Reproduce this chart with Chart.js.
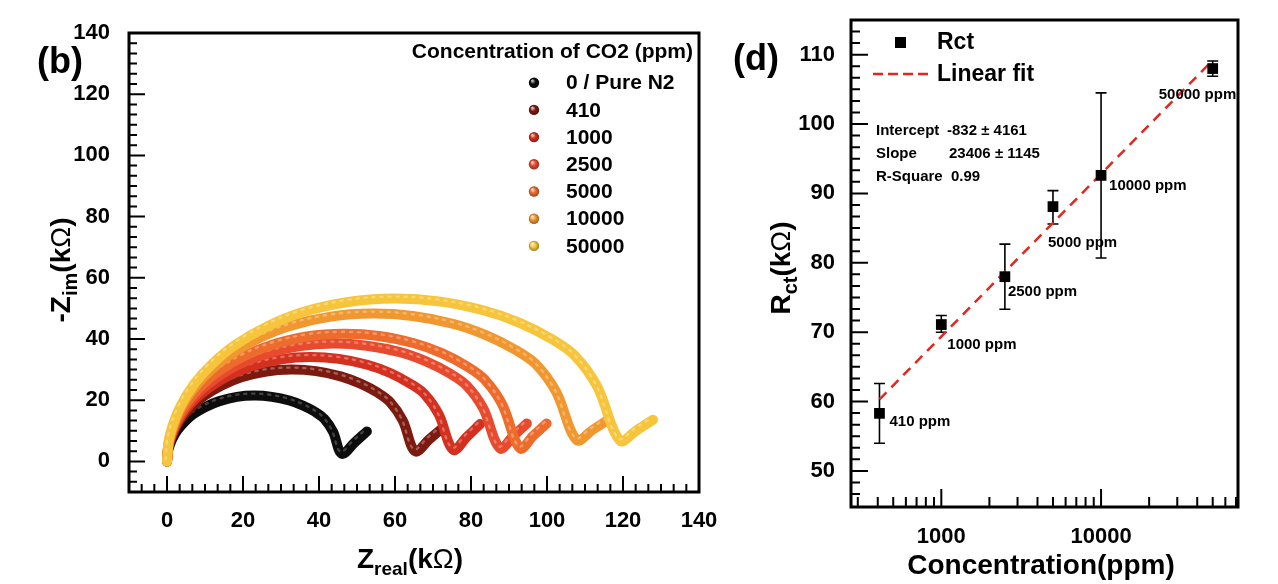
<!DOCTYPE html>
<html><head><meta charset="utf-8">
<script src="https://cdn.jsdelivr.net/npm/chart.js@4.4.0/dist/chart.umd.min.js"></script>
<style>
html,body{margin:0;padding:0;background:#fff;}
#wrap{position:relative;width:1278px;height:584px;overflow:hidden;background:#fff;}
#cL{position:absolute;left:0;top:0;}
#cR{position:absolute;left:720px;top:0;}
</style></head><body>
<div id="wrap"><canvas id="cL" width="720" height="584"></canvas><canvas id="cR" width="558" height="584"></canvas></div>
<script>
// ================= Panel (b): Nyquist plots (kΩ) =================
const seriesLabels = ['0 / Pure N2', '410', '1000', '2500', '5000', '10000', '50000'];
const seriesColors = ['#0d0d0d', '#7c1a10', '#d4301f', '#e74a2c', '#ed6c2c', '#f0982f', '#f6c53c'];

const zReal_N2 = [0, 0.14, 0.46, 1.38, 2.76, 4.60, 6.90, 10.12, 13.80, 18.40, 23.00, 27.60, 32.20, 35.88, 39.10, 41.40, 43.70, 46.00, 49.30, 52.60];
const zIm_N2   = [0, 2.3, 4.3, 7.3, 10.2, 12.9, 15.4, 17.8, 19.7, 21.1, 21.5, 21.1, 19.9, 18.2, 16.1, 13.9, 9.7, 2.5, 6.1, 9.8];

const zReal_410 = [0, 0.20, 0.65, 1.96, 3.92, 6.53, 9.80, 14.37, 19.59, 26.12, 32.65, 39.18, 45.71, 50.93, 55.51, 58.77, 62.04, 65.30, 69.00, 72.60];
const zIm_410   = [0, 3.3, 6.0, 10.2, 14.3, 18.0, 21.4, 24.8, 27.5, 29.4, 30.0, 29.5, 27.8, 25.4, 22.4, 19.3, 13.4, 3.3, 7.2, 11.0];

const zReal_1000 = [0, 0.23, 0.75, 2.26, 4.52, 7.53, 11.30, 16.57, 22.59, 30.12, 37.65, 45.18, 52.71, 58.73, 64.01, 67.77, 71.54, 75.30, 78.90, 82.40];
const zIm_1000   = [0, 3.7, 6.8, 11.6, 16.2, 20.5, 24.3, 28.2, 31.3, 33.4, 34.1, 33.5, 31.6, 28.9, 25.4, 22.0, 15.3, 3.8, 8.0, 12.2];

const zReal_2500 = [0, 0.26, 0.88, 2.63, 5.26, 8.76, 13.14, 19.27, 26.28, 35.04, 43.80, 52.56, 61.32, 68.33, 74.46, 78.84, 83.22, 87.60, 91.20, 94.70];
const zIm_2500   = [0, 4.2, 7.7, 13.1, 18.3, 23.1, 27.5, 31.9, 35.3, 37.7, 38.5, 37.8, 35.7, 32.6, 28.7, 24.8, 17.3, 4.3, 8.4, 12.4];

const zReal_5000 = [0, 0.28, 0.93, 2.79, 5.57, 9.29, 13.94, 20.44, 27.87, 37.16, 46.45, 55.74, 65.03, 72.46, 78.97, 83.61, 88.26, 92.90, 96.40, 99.90];
const zIm_5000   = [0, 4.5, 8.3, 14.2, 19.8, 25.0, 29.8, 34.5, 38.2, 40.9, 41.7, 41.0, 38.6, 35.3, 31.0, 26.7, 18.5, 4.3, 8.4, 12.4];

const zReal_10000 = [0, 0.32, 1.08, 3.23, 6.47, 10.78, 16.17, 23.72, 32.34, 43.12, 53.90, 64.68, 75.46, 84.08, 91.63, 97.02, 102.41, 107.80, 112.00, 116.10];
const zIm_10000   = [0, 5.3, 9.6, 16.5, 22.9, 29.0, 34.5, 40.0, 44.3, 47.3, 48.3, 47.5, 44.9, 41.2, 36.5, 31.8, 22.7, 7.0, 10.3, 13.6];

const zReal_50000 = [0, 0.36, 1.19, 3.58, 7.15, 11.92, 17.88, 26.22, 35.76, 47.68, 59.60, 71.52, 83.44, 92.98, 101.32, 107.28, 113.24, 119.20, 123.60, 127.90];
const zIm_50000   = [0, 5.8, 10.6, 18.1, 25.3, 31.9, 38.0, 44.0, 48.8, 52.1, 53.2, 52.3, 49.3, 45.2, 39.9, 34.6, 24.4, 6.8, 10.2, 13.6];

const leftXTicks = [0, 20, 40, 60, 80, 100, 120, 140];
const leftYTicks = [0, 20, 40, 60, 80, 100, 120, 140];

// ================= Panel (d): Rct vs concentration =================
const conc = [410, 1000, 2500, 5000, 10000, 50000];
const rct = [58.3, 71.1, 78.0, 88.1, 92.6, 108.0];
const rctErrLow = [54.0, 70.0, 73.3, 85.6, 80.7, 106.9];
const rctErrHigh = [62.6, 72.4, 82.7, 90.4, 104.5, 109.1];
const fitConc = [410, 50000];
const fitRct = [60.3, 109.2];
const pointLabels = ['410 ppm', '1000 ppm', '2500 ppm', '5000 ppm', '10000 ppm', '50000 ppm'];
const fitStatNames = ['Intercept', 'Slope', 'R-Square'];
const fitStatValues = ['-832 \u00B1 4161', '23406 \u00B1 1145', '0.99'];
const rightXTicks = [1000, 10000];
const rightYTicks = [50, 60, 70, 80, 90, 100, 110];

// label placement (px) relative to each point / stats column offsets
const pointLabelOffsets = [[10, 9], [6, 20], [3, 15], [-5, 36], [8, 10], [-54, 26]];
const statValueOffsets = [71, 73, 75];

// ================= helpers =================
const FONT = "'Liberation Sans', Arial, Helvetica, sans-serif";
Chart.defaults.font.family = FONT;
Chart.defaults.color = '#000';

function richText(ctx, parts, x, y, align) {
  let w = 0;
  const widths = parts.map(p => { ctx.font = `${p[2]} ${p[1]}px ${FONT}`; const m = ctx.measureText(p[0]).width; w += m; return m; });
  let cx = align === 'center' ? x - w / 2 : (align === 'right' ? x - w : x);
  ctx.textAlign = 'left'; ctx.textBaseline = 'alphabetic'; ctx.fillStyle = '#000';
  parts.forEach((p, i) => { ctx.font = `${p[2]} ${p[1]}px ${FONT}`; ctx.fillText(p[0], cx, y + (p[3] || 0)); cx += widths[i]; });
}
function shade(hex, f) {
  const n = parseInt(hex.slice(1), 16);
  let r = (n >> 16) & 255, g = (n >> 8) & 255, b = n & 255;
  if (f < 0) { r *= 1 + f; g *= 1 + f; b *= 1 + f; }
  else { r += (255 - r) * f; g += (255 - g) * f; b += (255 - b) * f; }
  return `rgb(${Math.round(r)},${Math.round(g)},${Math.round(b)})`;
}
function sphere(ctx, x, y, r, color) {
  const g = ctx.createRadialGradient(x - r * 0.35, y - r * 0.4, r * 0.1, x, y, r);
  g.addColorStop(0, shade(color, 0.75));
  g.addColorStop(0.45, color);
  g.addColorStop(1, shade(color, -0.35));
  ctx.fillStyle = g; ctx.beginPath(); ctx.arc(x, y, r, 0, Math.PI * 2); ctx.fill();
}
function noScalePadding(s) { s.paddingTop = 0; s.paddingBottom = 0; s.paddingLeft = 0; s.paddingRight = 0; }

// ================= left chart =================
const leftSeries = [[zReal_N2, zIm_N2], [zReal_410, zIm_410], [zReal_1000, zIm_1000], [zReal_2500, zIm_2500],
  [zReal_5000, zIm_5000], [zReal_10000, zIm_10000], [zReal_50000, zIm_50000]];

// bead highlights along each Nyquist trace
const beadShine = {
  id: 'beadShine',
  afterDatasetDraw(chart, args) {
    const line = args.meta.dataset; if (!line || !line.points || !line.points.length) return;
    const ctx = chart.ctx, a = chart.chartArea;
    ctx.save();
    ctx.beginPath(); ctx.rect(a.left, a.top, a.right - a.left, a.bottom - a.top); ctx.clip();
    ctx.translate(-1.4, -2.0);
    ctx.beginPath(); line.path(ctx);
    ctx.setLineDash([2.2, 5.8]); ctx.lineCap = 'round'; ctx.lineWidth = 2.4;
    ctx.strokeStyle = args.index === 0 ? 'rgba(255,255,255,0.22)' : 'rgba(255,255,255,0.3)';
    ctx.stroke();
    ctx.restore();
  }
};

const leftDecor = {
  id: 'leftDecor',
  afterDraw(chart) {
    const { ctx, chartArea: a } = chart; const xs = chart.scales.x, ys = chart.scales.y;
    const step = 20 / 6;
    ctx.save();
    ctx.strokeStyle = '#000'; ctx.lineWidth = 2; ctx.beginPath();
    for (let k = -2; k <= 41; k++) {
      const v = k * step, major = k % 6 === 0;
      const px = xs.getPixelForValue(v);
      ctx.moveTo(px, a.bottom); ctx.lineTo(px, a.bottom - (major ? 16 : 8));
      const py = ys.getPixelForValue(v);
      ctx.moveTo(a.left, py); ctx.lineTo(a.left + (major ? 16 : 8), py);
    }
    ctx.stroke();
    ctx.lineWidth = 3; ctx.strokeRect(a.left, a.top, a.right - a.left, a.bottom - a.top);
    // axis titles
    richText(ctx, [['Z', 28, 'bold'], ['real', 19, 'bold', 7], ['(k', 28, 'bold'], ['\u03A9', 28, 'normal'], [')', 28, 'bold']], 410, 568, 'center');
    ctx.save(); ctx.translate(70, 270); ctx.rotate(-Math.PI / 2);
    richText(ctx, [['-Z', 28, 'bold'], ['im', 20, 'bold', 7], ['(k', 28, 'bold'], ['\u03A9', 28, 'normal'], [')', 28, 'bold']], 0, 0, 'center');
    ctx.restore();
    // panel label
    ctx.font = `bold 36px ${FONT}`; ctx.textAlign = 'left'; ctx.textBaseline = 'middle'; ctx.fillStyle = '#000';
    ctx.fillText('(b)', 37, 63);
    // legend
    ctx.font = `bold 21px ${FONT}`; ctx.textAlign = 'right'; ctx.textBaseline = 'middle';
    ctx.fillText('Concentration of CO2 (ppm)', 693, 52);
    ctx.textAlign = 'left';
    seriesLabels.forEach((lab, i) => {
      const yy = 82.7 + 27.2 * i;
      sphere(ctx, 534, yy, 5.2, seriesColors[i]);
      ctx.fillStyle = '#000'; ctx.fillText(lab, 566, yy + 1);
    });
    ctx.restore();
  }
};

new Chart(document.getElementById('cL'), {
  type: 'scatter',
  data: {
    datasets: leftSeries.map((s, i) => ({
      label: seriesLabels[i],
      data: s[0].map((x, j) => ({ x, y: s[1][j] })),
      showLine: true, borderColor: seriesColors[i], backgroundColor: seriesColors[i],
      borderWidth: 10, pointRadius: 0, tension: 0.35,
      borderCapStyle: 'round', borderJoinStyle: 'round', order: 6 - i
    }))
  },
  options: {
    responsive: false, animation: false, devicePixelRatio: 1,
    layout: { autoPadding: false, padding: { left: 0, top: 33, right: 21, bottom: 0 } },
    plugins: { legend: { display: false }, tooltip: { enabled: false } },
    scales: {
      x: {
        type: 'linear', min: -10, max: 140,
        grid: { display: false, drawTicks: false }, border: { display: false },
        afterBuildTicks: s => { s.ticks = leftXTicks.map(v => ({ value: v })); },
        ticks: { font: { size: 22, weight: 'bold' }, color: '#000', padding: 16, maxRotation: 0, autoSkip: false },
        afterFit: s => { s.height = 92; noScalePadding(s); }
      },
      y: {
        type: 'linear', min: -10, max: 140,
        grid: { display: false, drawTicks: false }, border: { display: false },
        afterBuildTicks: s => { s.ticks = leftYTicks.map(v => ({ value: v })); },
        ticks: { font: { size: 22, weight: 'bold' }, color: '#000', padding: 19, autoSkip: false },
        afterFit: s => { s.width = 129; noScalePadding(s); }
      }
    }
  },
  plugins: [beadShine, leftDecor]
});

// ================= right chart =================
const OX = 720; // page x of the right canvas
const rightDecor = {
  id: 'rightDecor',
  beforeDatasetsDraw(chart) {
    const { ctx } = chart; const xs = chart.scales.x, ys = chart.scales.y;
    ctx.save(); ctx.strokeStyle = '#000'; ctx.lineWidth = 1.6; ctx.beginPath();
    conc.forEach((c, i) => {
      const px = xs.getPixelForValue(c), y1 = ys.getPixelForValue(rctErrLow[i]), y2 = ys.getPixelForValue(rctErrHigh[i]);
      ctx.moveTo(px, y1); ctx.lineTo(px, y2);
      ctx.moveTo(px - 5.5, y1); ctx.lineTo(px + 5.5, y1);
      ctx.moveTo(px - 5.5, y2); ctx.lineTo(px + 5.5, y2);
    });
    ctx.stroke(); ctx.restore();
  },
  afterDraw(chart) {
    const { ctx, chartArea: a } = chart; const xs = chart.scales.x, ys = chart.scales.y;
    ctx.save();
    ctx.strokeStyle = '#000'; ctx.lineWidth = 2; ctx.beginPath();
    [100, 1000, 10000].forEach(d => {
      for (let m = 1; m <= 9; m++) {
        const v = d * m; if (v <= xs.min || v >= xs.max) continue;
        const px = xs.getPixelForValue(v), major = m === 1;
        ctx.moveTo(px, a.bottom); ctx.lineTo(px, a.bottom - (major ? 18 : 10));
      }
    });
    for (let k = 27; k <= 69; k++) {
      const v = k * 10 / 6; if (v <= ys.min + 0.4 || v >= ys.max - 0.4) continue;
      const major = k % 6 === 0, py = ys.getPixelForValue(v);
      ctx.moveTo(a.left, py); ctx.lineTo(a.left + (major ? 17 : 9), py);
    }
    ctx.stroke();
    ctx.lineWidth = 3; ctx.strokeRect(a.left, a.top, a.right - a.left, a.bottom - a.top);
    // point labels
    ctx.fillStyle = '#000'; ctx.font = `bold 15px ${FONT}`; ctx.textAlign = 'left'; ctx.textBaseline = 'middle';
    conc.forEach((c, i) => {
      const px = xs.getPixelForValue(c), py = ys.getPixelForValue(rct[i]);
      ctx.fillText(pointLabels[i], px + pointLabelOffsets[i][0], py + pointLabelOffsets[i][1]);
    });
    // fit statistics
    ctx.font = `bold 15px ${FONT}`;
    fitStatNames.forEach((nm, i) => {
      ctx.fillText(nm, a.left + 25, 131 + 23 * i);
      ctx.fillText(fitStatValues[i], a.left + 25 + statValueOffsets[i], 131 + 23 * i);
    });
    // page-positioned decorations
    ctx.translate(-OX, 0);
    ctx.fillStyle = '#000'; ctx.fillRect(895, 37, 11, 11);
    ctx.strokeStyle = '#e3261e'; ctx.lineWidth = 2.5; ctx.setLineDash([10, 5]);
    ctx.beginPath(); ctx.moveTo(873, 74); ctx.lineTo(933, 74); ctx.stroke(); ctx.setLineDash([]);
    ctx.font = `bold 23px ${FONT}`; ctx.fillStyle = '#000'; ctx.textAlign = 'left'; ctx.textBaseline = 'middle';
    ctx.fillText('Rct', 937, 43); ctx.fillText('Linear fit', 937, 75);
    richText(ctx, [['Concentration(ppm)', 28, 'bold']], 1041, 574, 'center');
    ctx.save(); ctx.translate(790, 268); ctx.rotate(-Math.PI / 2);
    richText(ctx, [['R', 28, 'bold'], ['ct', 20, 'bold', 7], ['(k', 28, 'bold'], ['\u03A9', 28, 'normal'], [')', 28, 'bold']], 0, 0, 'center');
    ctx.restore();
    ctx.font = `bold 36px ${FONT}`; ctx.textAlign = 'left'; ctx.textBaseline = 'middle'; ctx.fillStyle = '#000';
    ctx.fillText('(d)', 733, 60);
    ctx.restore();
  }
};

new Chart(document.getElementById('cR'), {
  type: 'scatter',
  data: {
    datasets: [
      { label: 'Rct', data: conc.map((c, i) => ({ x: c, y: rct[i] })), pointStyle: 'rect', pointRadius: 7.6,
        backgroundColor: '#000', borderColor: '#000', borderWidth: 0, showLine: false, order: 0 },
      { label: 'Linear fit', data: fitConc.map((c, i) => ({ x: c, y: fitRct[i] })), showLine: true, pointRadius: 0,
        borderColor: '#e3261e', borderWidth: 2.5, borderDash: [10, 7], order: 1 }
    ]
  },
  options: {
    responsive: false, animation: false, devicePixelRatio: 1,
    layout: { autoPadding: false, padding: { left: 0, top: 20, right: 40, bottom: 0 } },
    plugins: { legend: { display: false }, tooltip: { enabled: false } },
    scales: {
      x: {
        type: 'logarithmic', min: 272, max: 72000,
        grid: { display: false, drawTicks: false }, border: { display: false },
        afterBuildTicks: s => { s.ticks = rightXTicks.map(v => ({ value: v })); },
        ticks: { font: { size: 22, weight: 'bold' }, color: '#000', padding: 17, maxRotation: 0, autoSkip: false, callback: v => String(v) },
        afterFit: s => { s.height = 77; noScalePadding(s); }
      },
      y: {
        type: 'linear', min: 44.8, max: 115,
        grid: { display: false, drawTicks: false }, border: { display: false },
        afterBuildTicks: s => { s.ticks = rightYTicks.map(v => ({ value: v })); },
        ticks: { font: { size: 22, weight: 'bold' }, color: '#000', padding: 16, autoSkip: false },
        afterFit: s => { s.width = 131; noScalePadding(s); }
      }
    }
  },
  plugins: [rightDecor]
});
</script>
</body></html>
